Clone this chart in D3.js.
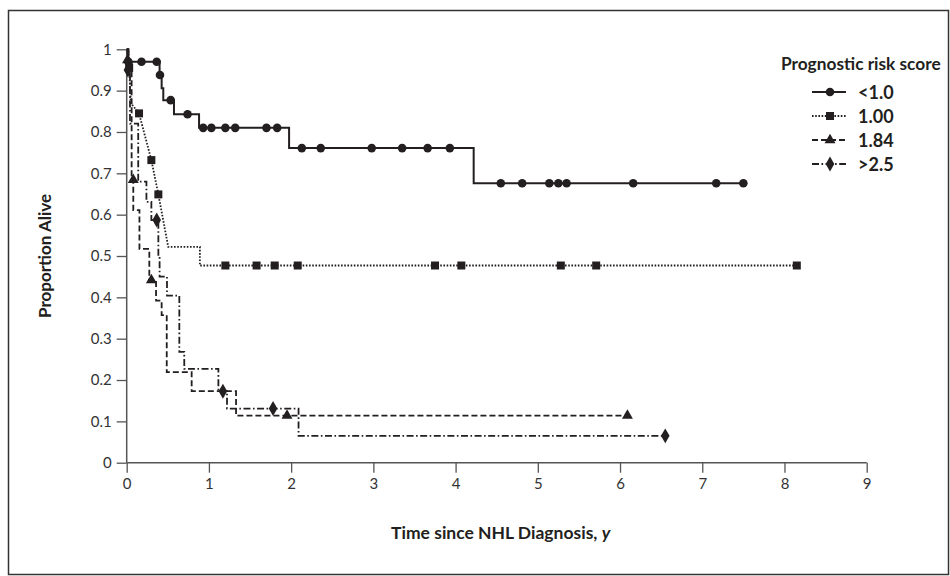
<!DOCTYPE html>
<html><head><meta charset="utf-8">
<script src="https://cdn.jsdelivr.net/npm/d3@7"></script>
<style>body{margin:0;background:#fff;} svg{display:block;font-family:Lato,"Open Sans",sans-serif;}</style>
</head><body>
<svg id="chart" width="950" height="576"></svg>
<script>
const seriesNames = ["<1.0", "1.00", "1.84", ">2.5"];
const xTicks = [0,1,2,3,4,5,6,7,8,9];
const yTicks = [0,0.1,0.2,0.3,0.4,0.5,0.6,0.7,0.8,0.9,1];

const pathLt1 = [[0,1],[0.02,1],[0.02,0.970],[0.40,0.970],[0.40,0.938],[0.425,0.938],[0.425,0.906],[0.445,0.906],[0.445,0.877],[0.575,0.877],[0.575,0.843],[0.88,0.843],[0.88,0.810],[1.975,0.810],[1.975,0.761],[4.22,0.761],[4.22,0.676],[7.50,0.676]];
const marksLt1 = [[0.02,0.97],[0.18,0.97],[0.365,0.97],[0.405,0.938],[0.535,0.877],[0.74,0.843],[0.93,0.81],[1.03,0.81],[1.20,0.81],[1.32,0.81],[1.70,0.81],[1.83,0.81],[2.13,0.761],[2.36,0.761],[2.98,0.761],[3.35,0.761],[3.66,0.761],[3.93,0.761],[4.55,0.676],[4.81,0.676],[5.14,0.676],[5.25,0.676],[5.35,0.676],[6.16,0.676],[7.17,0.676],[7.50,0.676]];

const path100 = [[0,1],[0.02,1],[0.03,0.955],[0.05,0.87],[0.15,0.845],[0.30,0.732],[0.385,0.649],[0.505,0.522],[0.89,0.522],[0.89,0.477],[8.15,0.477]];
const marks100 = [[0.03,0.955],[0.15,0.845],[0.30,0.732],[0.385,0.649],[1.20,0.477],[1.58,0.477],[1.80,0.477],[2.08,0.477],[3.75,0.477],[4.07,0.477],[5.28,0.477],[5.71,0.477],[8.15,0.477]];

const path184 = [[0,1],[0.01,1],[0.01,0.974],[0.06,0.974],[0.06,0.684],[0.08,0.684],[0.08,0.611],[0.155,0.611],[0.155,0.517],[0.275,0.517],[0.275,0.442],[0.357,0.442],[0.357,0.392],[0.425,0.392],[0.425,0.357],[0.487,0.357],[0.487,0.219],[0.79,0.219],[0.79,0.173],[1.33,0.173],[1.33,0.114],[6.09,0.114]];
const marks184 = [[0.01,0.974],[0.08,0.684],[0.30,0.442],[1.95,0.114],[6.09,0.114]];

const path25 = [[0,1],[0.02,1],[0.02,0.94],[0.04,0.94],[0.04,0.82],[0.14,0.82],[0.14,0.68],[0.24,0.68],[0.24,0.631],[0.30,0.631],[0.30,0.587],[0.385,0.587],[0.385,0.498],[0.40,0.498],[0.40,0.45],[0.49,0.45],[0.49,0.404],[0.64,0.404],[0.64,0.268],[0.70,0.268],[0.70,0.227],[1.115,0.227],[1.115,0.173],[1.22,0.173],[1.22,0.131],[2.09,0.131],[2.09,0.065],[6.55,0.065]];
const marks25 = [[0.015,0.95],[0.365,0.587],[1.17,0.173],[1.78,0.131],[6.55,0.065]];

const ink = "#231f20";
const styles = [
  {path: pathLt1, marks: marksLt1, dash: null, sym: d3.symbolCircle, size: 58},
  {path: path100, marks: marks100, dash: "1.6,1.6", sym: d3.symbolSquare, size: 64},
  {path: path184, marks: marks184, dash: "6,3", sym: d3.symbolTriangle, size: 52},
  {path: path25, marks: marks25, dash: "7,2.5,1.6,2.5", sym: d3.symbolDiamond, size: 64}
];

const svg = d3.select("#chart");
const x = d3.scaleLinear().domain([0, 9]).range([126.7, 866.7]);
const y = d3.scaleLinear().domain([0, 1]).range([462.7, 49.3]);

// frame
svg.append("rect").attr("x", 8.5).attr("y", 10.5).attr("width", 940).attr("height", 564)
  .attr("fill", "none").attr("stroke", "#333").attr("stroke-width", 1.5);

// axes
const yAxis = d3.axisLeft(y).tickValues(yTicks).tickSize(10).tickPadding(5)
  .tickFormat(d => d === 0 ? "0" : d === 1 ? "1" : d3.format(".1f")(d));
const gy = svg.append("g").attr("transform", `translate(${x(0)},0)`).call(yAxis);
const xAxis = d3.axisBottom(x).tickValues(xTicks).tickSize(10).tickPadding(6).tickFormat(d3.format("d"));
const gx = svg.append("g").attr("transform", `translate(0,${y(0)})`).call(xAxis);
[gx, gy].forEach(g => {
  g.select(".domain").attr("stroke", "#555").attr("stroke-width", 1.5);
  g.selectAll(".tick line").attr("stroke", "#555").attr("stroke-width", 1.3);
  g.selectAll(".tick text").attr("fill", "#333").style("font-size", "15px").style("font-family", "Lato, sans-serif");
});
gy.select(".domain").attr("d", `M-0,${y(0)}V${y(1)}`);
gx.select(".domain").attr("d", `M${x(0)},0H${x(9)}`);

// curves
const line = d3.line().x(d => x(d[0])).y(d => y(d[1]));
styles.forEach(s => {
  svg.append("path").attr("d", line(s.path)).attr("fill", "none").attr("stroke", ink)
    .attr("stroke-width", s.dash ? 1.8 : 2).attr("stroke-dasharray", s.dash);
  svg.append("g").selectAll("path").data(s.marks).join("path")
    .attr("d", d3.symbol(s.sym, s.size))
    .attr("transform", d => `translate(${x(d[0])},${y(d[1])})`)
    .attr("fill", ink);
});

// axis titles
svg.append("text").attr("transform", `translate(51,${(y(0)+y(1))/2}) rotate(-90)`)
  .attr("text-anchor", "middle").attr("fill", ink).style("font-size", "17px").style("font-weight", "bold")
  .text("Proportion Alive");
const xt = svg.append("text").attr("x", (x(0)+x(9))/2 + 4).attr("y", 539).attr("text-anchor", "middle")
  .attr("fill", ink).style("font-size", "17.5px").style("font-weight", "bold");
xt.append("tspan").text("Time since NHL Diagnosis, ");
xt.append("tspan").style("font-style", "italic").text("y");

// legend
const lg = svg.append("g");
lg.append("text").attr("x", 781).attr("y", 70).attr("fill", ink).style("font-size", "17.3px").style("font-weight", "bold")
  .text("Prognostic risk score");
const legY = [92, 116, 140, 164];
styles.forEach((s, i) => {
  lg.append("line").attr("x1", 812).attr("x2", 846).attr("y1", legY[i]).attr("y2", legY[i])
    .attr("stroke", ink).attr("stroke-width", s.dash ? 1.8 : 2).attr("stroke-dasharray", s.dash);
  lg.append("path").attr("d", d3.symbol(s.sym, s.size)).attr("transform", `translate(830,${legY[i]})`).attr("fill", ink);
  lg.append("text").attr("x", 858).attr("y", legY[i] + 6.5).attr("fill", ink)
    .style("font-size", "18px").style("font-weight", "bold").text(seriesNames[i]);
});
</script>
</body></html>
